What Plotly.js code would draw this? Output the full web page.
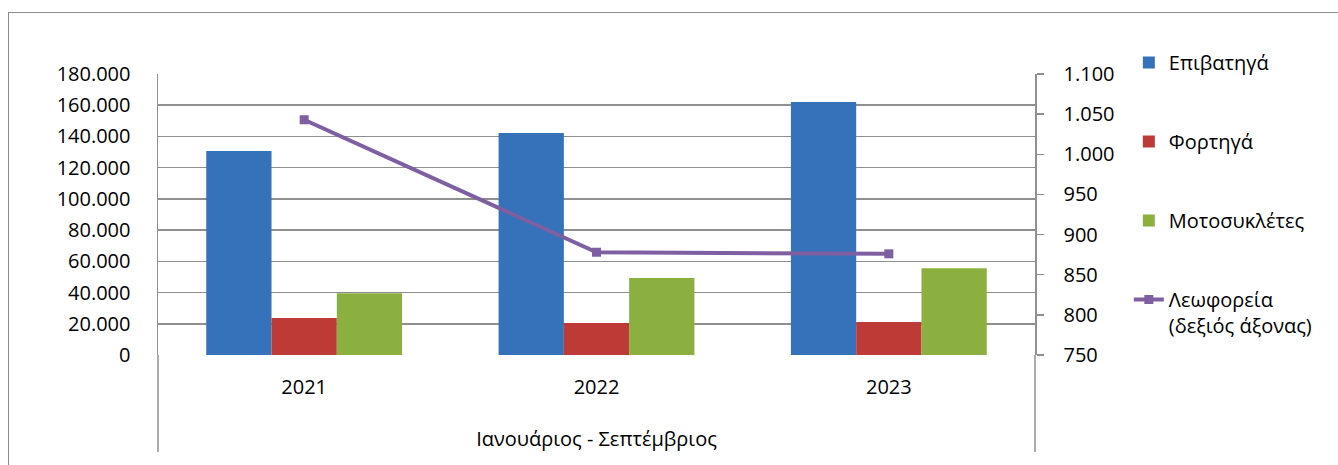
<!DOCTYPE html>
<html>
<head>
<meta charset="utf-8">
<script src="https://cdn.plot.ly/plotly-3.0.1.min.js"></script>
<style>
    body { margin: 0; background: #fff; }
    #frame {
        position: absolute; left: 8px; top: 12px;
        width: 2000px; height: 1000px;
        border-left: 1.5px solid #8c8c8c; border-top: 1.5px solid #8c8c8c;
    }
    #chart { position: absolute; left: 0; top: 0; width: 1338px; height: 465px; }
</style>
</head>
<body>
<div id="frame"></div>
<div id="chart"></div>
<script>
// ταξινομήσεις οχημάτων ανά έτος (Ιανουάριος - Σεπτέμβριος)
const years = ['2021', '2022', '2023'];
const epivatiga = [130700, 142200, 162100];
const fortiga = [23700, 20500, 21100];
const motosikletes = [39500, 49300, 55500];
const leoforeia = [1043, 878, 876];   // δεξιός άξονας

const font = {family: '"Open Sans", sans-serif', size: 20, color: '#000'};
const gridColor = '#8f8f8f';

// κοινό group για κάθε σειρά ώστε να απλώνει το υπόμνημα
const traces = [
    {x: years, y: epivatiga, type: 'bar', name: 'Επιβατηγά', legendgroup: 'a',
     marker: {color: '#3672BA'}},
    {x: years, y: fortiga, type: 'bar', name: 'Φορτηγά', legendgroup: 'b',
     marker: {color: '#BD3A36'}},
    {x: years, y: motosikletes, type: 'bar', name: 'Μοτοσυκλέτες', legendgroup: 'c',
     marker: {color: '#8BB040'}},
    {x: years, y: leoforeia, type: 'scatter', mode: 'lines+markers', yaxis: 'y2',
     name: 'Λεωφορεία<br>(δεξιός άξονας)', legendgroup: 'd',
     line: {color: '#7D5FA2', width: 4},
     marker: {symbol: 'square', size: 9, color: '#7D5FA2'}}
];

const layout = {
    width: 1338,
    height: 465,
    margin: {l: 158, r: 303, t: 74, b: 110},
    paper_bgcolor: 'rgba(0,0,0,0)',
    plot_bgcolor: 'rgba(0,0,0,0)',
    font: font,
    separators: ',.',
    barmode: 'group',
    bargap: 0.33,
    bargroupgap: 0,
    xaxis: {
        type: 'category',
        showgrid: false,
        ticks: '',
        ticklabelstandoff: 18,
        title: {text: 'Ιανουάριος - Σεπτέμβριος', font: font, standoff: 32}
    },
    yaxis: {
        range: [0, 180000],
        dtick: 20000,
        tickformat: ',d',
        showgrid: true,
        gridcolor: gridColor,
        gridwidth: 1.5,
        zeroline: false,
        showline: true,
        linecolor: gridColor,
        linewidth: 1.5,
        ticks: '',
        ticklabelstandoff: 22
    },
    yaxis2: {
        overlaying: 'y',
        side: 'right',
        range: [750, 1100],
        dtick: 50,
        tickformat: ',d',
        showgrid: false,
        zeroline: false,
        showline: true,
        linecolor: gridColor,
        linewidth: 1.5,
        ticks: 'outside',
        ticklen: 7,
        tickcolor: gridColor,
        tickwidth: 1.5,
        ticklabelstandoff: 16
    },
    legend: {
        x: 1.107, xanchor: 'left',
        y: 1.11, yanchor: 'top',
        traceorder: 'grouped',
        tracegroupgap: 50,
        valign: 'top',
        maxheight: 420,
        font: font
    },
    // προέκταση των κάθετων γραμμών κάτω από τον άξονα κατηγοριών
    shapes: [
        {type: 'line', xref: 'paper', yref: 'paper', x0: 0, x1: 0, y0: -0.345, y1: 0,
         line: {color: gridColor, width: 1.5}},
        {type: 'line', xref: 'paper', yref: 'paper', x0: 1, x1: 1, y0: -0.345, y1: 0,
         line: {color: gridColor, width: 1.5}}
    ]
};

Plotly.newPlot('chart', traces, layout, {displayModeBar: false, staticPlot: true});
</script>
</body>
</html>
